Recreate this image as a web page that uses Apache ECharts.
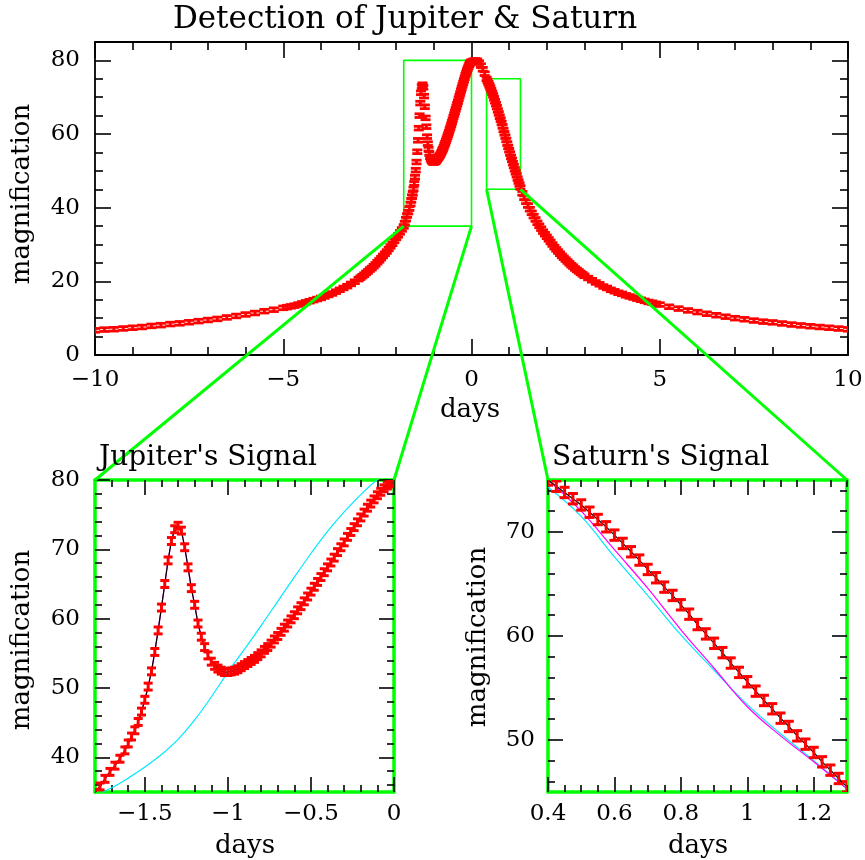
<!DOCTYPE html>
<html><head><meta charset="utf-8">
<script src="https://cdn.jsdelivr.net/npm/echarts@6/dist/echarts.min.js"></script>
<style>html,body{margin:0;padding:0;background:#fff}#c{width:865px;height:860px}</style>
</head><body><div id="c"></div>
<script>
// ---------- observations [day, magnification] ----------
const leftWing = [
[-10,6.7],[-9.75,6.9],[-9.5,7.0],[-9.25,7.2],[-9,7.4],[-8.75,7.6],[-8.5,7.9],[-8.25,8.1],[-8,8.4],[-7.75,8.6],
[-7.5,8.9],[-7.25,9.2],[-7,9.5],[-6.75,9.8],[-6.5,10.2],[-6.25,10.6],[-6,11.0],[-5.75,11.4],[-5.5,11.9],[-5.25,12.3],[-5,12.8],
[-4.9,13.0],[-4.8,13.2],[-4.7,13.4],[-4.6,13.7],[-4.5,14.0],[-4.4,14.3],[-4.3,14.6],[-4.2,14.9],[-4.1,15.2],[-4,15.5],
[-3.9,15.9],[-3.8,16.3],[-3.7,16.7],[-3.6,17.2],[-3.5,17.7],[-3.4,18.2],[-3.3,18.7],[-3.2,19.3],[-3.1,19.9],[-3,20.6],
[-2.95,21.0],[-2.9,21.4],[-2.85,21.8],[-2.8,22.3],[-2.75,22.7],[-2.7,23.2],[-2.65,23.6],[-2.6,24.1],[-2.55,24.6],[-2.5,25.2],
[-2.45,25.7],[-2.4,26.3],[-2.35,26.9],[-2.3,27.5],[-2.25,28.1],[-2.2,28.8],[-2.15,29.5],[-2.1,30.2],[-2.05,31.0],[-2,31.8],
[-1.95,32.5],[-1.9,33.3],[-1.85,34.1]
];
const jupiterRegion = [
[-1.8,34.9],[-1.77,35.8],[-1.74,36.9],[-1.71,37.9],[-1.68,38.8],[-1.65,39.8],[-1.62,41.0],[-1.6,42.0],[-1.58,43.0],[-1.56,43.9],
[-1.54,45.1],[-1.52,46.6],[-1.5,48.3],[-1.48,50.2],[-1.46,52.4],[-1.44,55.2],[-1.42,58.3],[-1.4,61.6],[-1.38,65.0],[-1.36,68.4],
[-1.34,71.2],[-1.32,72.9],[-1.3,73.4],[-1.28,72.7],[-1.26,70.3],[-1.24,67.4],[-1.22,64.4],[-1.2,62.0],[-1.18,59.3],[-1.16,57.4],
[-1.14,55.9],[-1.12,54.7],[-1.1,53.8],[-1.08,53.2],[-1.06,52.8],[-1.04,52.5],[-1.02,52.3],[-1,52.3],[-0.98,52.4],[-0.96,52.5],
[-0.94,52.7],[-0.92,53.0],[-0.9,53.3],[-0.88,53.6],[-0.86,53.9],[-0.84,54.2],[-0.82,54.6],[-0.8,55.0],[-0.78,55.5],[-0.76,55.9],
[-0.74,56.4],[-0.72,57.0],[-0.7,57.5],[-0.68,58.1],[-0.66,58.7],[-0.64,59.3],[-0.62,59.9],[-0.6,60.5],[-0.58,61.2],[-0.56,61.8],
[-0.54,62.5],[-0.52,63.2],[-0.5,63.9],[-0.48,64.6],[-0.46,65.3],[-0.44,66.0],[-0.42,66.7],[-0.4,67.4],[-0.38,68.1],[-0.36,68.8],
[-0.34,69.6],[-0.32,70.3],[-0.3,71.0],[-0.28,71.8],[-0.26,72.5],[-0.24,73.2],[-0.22,73.9],[-0.2,74.6],[-0.18,75.3],[-0.16,76.0],
[-0.14,76.6],[-0.12,77.2],[-0.1,77.8],[-0.08,78.3],[-0.06,78.8],[-0.04,79.2],[-0.02,79.5],[0,79.7]
];
const peakRegion = [[0.05,79.9],[0.1,80.0],[0.15,79.9],[0.2,79.4],[0.25,78.6],[0.3,77.6],[0.35,76.4]];
const saturnRegion = [
[0.4,75.0],[0.425,74.4],[0.45,73.8],[0.475,73.2],[0.5,72.6],[0.525,71.9],[0.55,71.2],[0.575,70.5],[0.6,69.7],[0.625,68.9],
[0.65,68.1],[0.675,67.3],[0.7,66.4],[0.725,65.6],[0.75,64.7],[0.775,63.9],[0.8,63.0],[0.825,62.1],[0.85,61.1],[0.875,60.2],
[0.9,59.3],[0.925,58.4],[0.95,57.4],[0.975,56.5],[1.0,55.6],[1.025,54.7],[1.05,53.8],[1.075,53.0],[1.1,52.1],[1.125,51.3],
[1.15,50.4],[1.175,49.6],[1.2,48.8],[1.225,47.9],[1.25,47.1],[1.275,46.3],[1.3,45.5]
];
const rightWing = [
[1.35,43.9],[1.4,42.7],[1.45,41.6],[1.5,40.6],[1.55,39.6],[1.6,38.6],[1.65,37.7],[1.7,36.8],[1.75,35.9],[1.8,35.1],
[1.85,34.3],[1.9,33.5],[1.95,32.8],[2,32.1],[2.05,31.4],[2.1,30.7],[2.15,30.0],[2.2,29.3],[2.25,28.7],[2.3,28.1],
[2.35,27.5],[2.4,26.9],[2.45,26.4],[2.5,25.9],[2.55,25.4],[2.6,24.9],[2.65,24.4],[2.7,24.0],[2.75,23.5],[2.8,23.1],
[2.85,22.7],[2.9,22.3],[2.95,21.9],[3,21.5],[3.1,20.9],[3.2,20.3],[3.3,19.7],[3.4,19.2],[3.5,18.6],[3.6,18.2],
[3.7,17.7],[3.8,17.3],[3.9,16.9],[4,16.6],[4.1,16.2],[4.2,15.9],[4.3,15.6],[4.4,15.3],[4.5,15.0],[4.6,14.7],
[4.7,14.4],[4.8,14.2],[4.9,13.9],[5,13.7],[5.25,13.1],[5.5,12.6],[5.75,12.1],[6,11.65],[6.25,11.2],[6.5,10.8],
[6.75,10.4],[7,10.0],[7.25,9.7],[7.5,9.35],[7.75,9.06],[8,8.85],[8.25,8.56],[8.5,8.27],[8.75,8.03],[9,7.81],
[9.25,7.6],[9.5,7.4],[9.75,7.18],[10,6.97]
];
const magError = 0.5;

// ---------- models ----------
const jupiterNoPlanet = [[-1.8,34.5],[-1.7,35.6],[-1.6,37.0],[-1.5,38.6],[-1.4,40.4],[-1.3,42.6],[-1.2,45.4],[-1.1,48.7],[-1.0,52.3],[-0.9,55.6],
[-0.8,59.0],[-0.7,62.5],[-0.6,66.0],[-0.5,69.4],[-0.4,72.6],[-0.3,75.4],[-0.2,77.9],[-0.1,80.1],[0,82.0]];
const saturnWithPlanet = [[0.4,75.0],[0.5,72.0],[0.6,68.3],[0.7,64.6],[0.8,60.6],[0.9,56.9],[1.0,53.2],[1.1,50.4],[1.2,47.9],[1.3,45.3]];
const saturnNoPlanet = [[0.4,74.3],[0.5,71.5],[0.6,67.6],[0.7,63.9],[0.8,60.1],[0.9,56.7],[1.0,53.4],[1.1,50.6],[1.2,48.0],[1.3,45.3]];

// ---------- axis ranges & ticks ----------
const mainRange = {x:[-10,10], y:[0,85]};
const jupRange = {x:[-1.8,0], y:[35,80]};
const satRange = {x:[0.4,1.3], y:[45,75]};
const mainXMajor = [-10,-5,0,5,10];
const mainXMinor = [-9,-8,-7,-6,-4,-3,-2,-1,1,2,3,4,6,7,8,9];
const mainYMajor = [0,20,40,60,80];
const mainYMinor = [5,10,15,25,30,35,45,50,55,65,70,75,85];
const jupXMajor = [-1.5,-1,-0.5,0];
const jupXMinor = [-1.7,-1.6,-1.4,-1.3,-1.2,-1.1,-0.9,-0.8,-0.7,-0.6,-0.4,-0.3,-0.2,-0.1];
const jupYMajor = [40,50,60,70,80];
const jupYMinor = [36,38,42,44,46,48,52,54,56,58,62,64,66,68,72,74,76,78];
const satXMajor = [0.4,0.6,0.8,1,1.2];
const satXMinor = [0.45,0.5,0.55,0.65,0.7,0.75,0.85,0.9,0.95,1.05,1.1,1.15,1.25,1.3];
const satYMajor = [50,60,70];
const satYMinor = [46,48,52,54,56,58,62,64,66,68,72,74];

const observations = [].concat(leftWing, jupiterRegion, peakRegion, saturnRegion, rightWing);

const FONT = 'DejaVu Serif';
const GREEN = '#00ff00';
const CYAN = '#00e8ff';
function fmt(v){ return v < 0 ? '\u2212' + Math.abs(v) : String(v); }

function axesFor(g, dim, range, major, minor, o) {
  const posA = dim === 'x' ? 'bottom' : 'left';
  const posB = dim === 'x' ? 'top' : 'right';
  const base = {type:'value', gridIndex:g, min:range[0], max:range[1], splitLine:{show:false}};
  const line = {show:true, onZero:false, lineStyle:{color:o.frame, width:o.frameW}};
  const tick = (vals, len) => ({show:true, inside:true, length:len, customValues:vals, lineStyle:{color:'#000', width:1.6}});
  return [
    Object.assign({}, base, {position:posA, axisLine:line, axisTick:tick(major, o.maj),
      axisLabel:{show:true, customValues:major, formatter:fmt, margin:(dim==='x'?o.xm:o.ym), color:'#000', fontFamily:FONT, fontSize:23}}),
    Object.assign({}, base, {position:posB, axisLine:line, axisTick:tick(major, o.maj), axisLabel:{show:false}}),
    Object.assign({}, base, {position:posA, axisLine:{show:false, onZero:false}, axisTick:tick(minor, o.min), axisLabel:{show:false}}),
    Object.assign({}, base, {position:posB, axisLine:{show:false, onZero:false}, axisTick:tick(minor, o.min), axisLabel:{show:false}})
  ];
}

const topOpt = {frame:'#000', frameW:1.8, maj:16, min:8, xm:14, ym:15};
const panelOpt = {frame:GREEN, frameW:3.5, maj:15, min:7, xm:11, ym:15};
const satOpt = {frame:GREEN, frameW:3.5, maj:15, min:7, xm:11, ym:13};

const xAxes = [].concat(
  axesFor(0,'x',mainRange.x,mainXMajor,mainXMinor,topOpt),
  axesFor(1,'x',jupRange.x,jupXMajor,jupXMinor,panelOpt),
  axesFor(2,'x',satRange.x,satXMajor,satXMinor,satOpt));
const yAxes = [].concat(
  axesFor(0,'y',mainRange.y,mainYMajor,mainYMinor,topOpt),
  axesFor(1,'y',jupRange.y,jupYMajor,jupYMinor,panelOpt),
  axesFor(2,'y',satRange.y,satYMajor,satYMinor,satOpt));

function inRange(data, r){ return data.filter(d => d[0] >= r.x[0]-1e-9 && d[0] <= r.x[1]+1e-9); }

function errorBars(g, data, capW, lw) {
  return {
    type:'custom', xAxisIndex:4*g, yAxisIndex:4*g, z:3, animation:false, silent:true,
    data:data,
    renderItem(params, api) {
      const x = api.value(0), y = api.value(1);
      const hi = api.coord([x, y + magError]);
      const lo = api.coord([x, y - magError]);
      const cx = hi[0], w = capW / 2;
      const st = {stroke:'#ff0000', lineWidth:lw, fill:null};
      const cs = params.coordSys;
      return {type:'group',
        clipPath:{type:'rect', shape:{x:cs.x, y:cs.y, width:cs.width, height:cs.height}},
        children:[
          {type:'line', shape:{x1:cx, y1:hi[1], x2:cx, y2:lo[1]}, style:st},
          {type:'line', shape:{x1:cx-w, y1:hi[1], x2:cx+w, y2:hi[1]}, style:st},
          {type:'line', shape:{x1:cx-w, y1:lo[1], x2:cx+w, y2:lo[1]}, style:st}
        ]};
    }
  };
}
function lineSeries(g, data, color, smooth, z, w) {
  return {type:'line', xAxisIndex:4*g, yAxisIndex:4*g, data:data, showSymbol:false, symbol:'none',
    smooth:smooth, lineStyle:{color:color, width:w||1.2}, z:z, animation:false, silent:true, clip:true};
}
function boxSeries(r) {
  return {type:'line', xAxisIndex:0, yAxisIndex:0, symbol:'none', showSymbol:false, z:2, animation:false, silent:true,
    data:[[r.x[0],r.y[0]],[r.x[1],r.y[0]],[r.x[1],r.y[1]],[r.x[0],r.y[1]],[r.x[0],r.y[0]]],
    lineStyle:{color:GREEN, width:1.6}};
}

const chart = echarts.init(document.getElementById('c'), null, {renderer:'canvas'});
chart.setOption({
  animation:false,
  backgroundColor:'#fff',
  grid:[
    {left:95, top:42, width:753, height:313, containLabel:false, outerBoundsMode:'none'},
    {left:95, top:480, width:299, height:312, containLabel:false, outerBoundsMode:'none'},
    {left:548, top:480, width:299, height:312, containLabel:false, outerBoundsMode:'none'}
  ],
  xAxis:xAxes, yAxis:yAxes,
  series:[
    boxSeries(jupRange), boxSeries(satRange),
    errorBars(0, observations, 10, 2.8),
    lineSeries(1, jupiterNoPlanet, CYAN, 0.4, 2),
    lineSeries(1, jupiterRegion, '#ff00ff', false, 2),
    lineSeries(1, jupiterRegion, '#000000', false, 2),
    errorBars(1, inRange(observations, jupRange), 9, 3),
    lineSeries(2, saturnNoPlanet, CYAN, 0.4, 2),
    lineSeries(2, saturnWithPlanet, '#ff00ff', 0.4, 2),
    lineSeries(2, saturnRegion, '#000000', false, 2),
    errorBars(2, inRange(observations, satRange), 10, 3)
  ]
});

// connector lines & texts
const P = (g, pt) => chart.convertToPixel({gridIndex:g}, pt);
const connectors = [
  [P(0,[jupRange.x[0],jupRange.y[0]]), P(1,[jupRange.x[0],jupRange.y[1]])],
  [P(0,[jupRange.x[1],jupRange.y[0]]), P(1,[jupRange.x[1],jupRange.y[1]])],
  [P(0,[satRange.x[0],satRange.y[0]]), P(2,[satRange.x[0],satRange.y[1]])],
  [P(0,[satRange.x[1],satRange.y[0]]), P(2,[satRange.x[1],satRange.y[1]])]
];
const txt = (text, x, y, size, rot, align) => ({type:'text', x:x, y:y, rotation:rot||0, z:20,
  style:{text:text, fill:'#000', font:'normal ' + size + 'px "' + FONT + '"', textAlign:align||'center', textVerticalAlign:'middle'}});
const graphics = connectors.map(c => ({type:'polyline', z:15, silent:true,
  shape:{points:[c[0], c[1]]}, style:{stroke:GREEN, lineWidth:3, fill:null}}));
graphics.push(
  txt('Detection of Jupiter & Saturn', 405, 20, 31),
  txt('magnification', 22, 194, 26, Math.PI/2),
  txt('days', 470, 410, 26),
  txt("Jupiter's Signal", 99, 458, 28, 0, 'left'),
  txt("Saturn's Signal", 552, 458, 28, 0, 'left'),
  txt('magnification', 22, 640, 26, Math.PI/2),
  txt('days', 245, 846, 26),
  txt('magnification', 478, 637, 26, Math.PI/2),
  txt('days', 698, 846, 26)
);
chart.setOption({graphic:graphics});
</script>
</body></html>
